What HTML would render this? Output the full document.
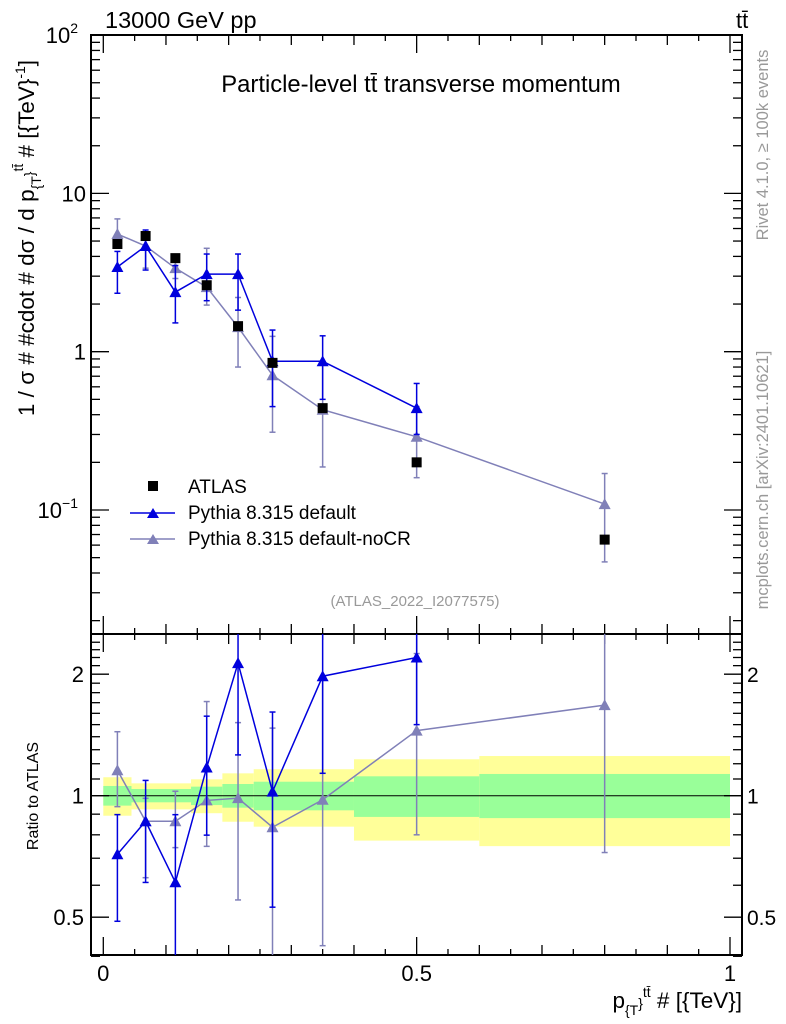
<!DOCTYPE html>
<html><head><meta charset="utf-8"><style>
body{margin:0;background:#fff}
svg{display:block;font-family:"Liberation Sans",sans-serif}
</style></head><body>
<svg id="c" width="786" height="1024" viewBox="0 0 786 1024">
<rect width="786" height="1024" fill="#fff"/>
<g id="bands"></g>
<g id="axes"></g>
<g id="series"></g>
<text x="105" y="28" font-size="23.5">13000 GeV pp</text>
<text x="736" y="28" font-size="22">tt̄</text>
<text x="421" y="92" font-size="23.8" text-anchor="middle">Particle-level tt̄ transverse momentum</text>
<text x="415" y="606" font-size="15" fill="#999" text-anchor="middle">(ATLAS_2022_I2077575)</text>
<text transform="translate(34,238) rotate(-90)" font-size="22.5" text-anchor="middle">1 / σ # #cdot # dσ / d p<tspan font-size="14" dy="7">{T</tspan><tspan font-size="14" dy="-7">}</tspan><tspan font-size="14" dy="-11">tt̄</tspan><tspan dy="11"> # [{TeV}</tspan><tspan font-size="14" dy="-9">-1</tspan><tspan dy="9">]</tspan></text>
<text transform="translate(38,796) rotate(-90)" font-size="16" text-anchor="middle">Ratio to ATLAS</text>
<text x="742" y="1008" font-size="22.5" text-anchor="end">p<tspan font-size="14" dy="7">{T</tspan><tspan font-size="14" dy="-7">}</tspan><tspan font-size="14" dy="-11">tt̄</tspan><tspan dy="11"> # [{TeV}]</tspan></text>
<text transform="translate(768,145) rotate(-90)" font-size="16.5" fill="#999" text-anchor="middle">Rivet 4.1.0, ≥ 100k events</text>
<text transform="translate(768,480) rotate(-90)" font-size="16.5" fill="#999" text-anchor="middle">mcplots.cern.ch [arXiv:2401.10621]</text>
<g>
<rect x="148" y="481" width="10" height="10" fill="#000"/>
<text x="188" y="493" font-size="19">ATLAS</text>
<line x1="130" y1="513" x2="175" y2="513" stroke="#0000dd" stroke-width="1.5"/>
<path d="M147,518 L153,508 L159,518Z" fill="#0000dd"/>
<text x="188" y="519" font-size="19">Pythia 8.315 default</text>
<line x1="130" y1="539" x2="175" y2="539" stroke="#8080b8" stroke-width="1.5"/>
<path d="M147,544 L153,534 L159,544Z" fill="#8080b8"/>
<text x="188" y="545" font-size="19">Pythia 8.315 default-noCR</text>
</g>
</svg>
<script>
const xs=[0.0225,0.0675,0.115,0.165,0.215,0.27,0.35,0.5,0.8];
const atlas=[4.79,5.38,3.9,2.63,1.45,0.85,0.44,0.20,0.065];
const defVals=[3.43,4.65,2.38,3.09,3.09,0.87,0.87,0.44];
const defUp=[4.3,5.87,3.5,4.14,4.14,1.37,1.26,0.63];
const defDn=[2.34,3.28,1.52,2.1,1.83,0.45,0.5,0.3];
const ncrVals=[5.54,4.65,3.37,2.56,1.43,0.71,0.43,0.29,0.109];
const ncrUp=[6.9,5.3,4.0,4.5,2.2,1.25,0.86,0.45,0.17];
const ncrDn=[4.5,3.37,2.9,1.97,0.8,0.31,0.187,0.16,0.047];
const binEdges=[0,0.045,0.14,0.19,0.24,0.4,0.6,1.0];
const yelHi=[1.111,1.073,1.098,1.136,1.163,1.231,1.254];
const yelLo=[0.892,0.925,0.905,0.862,0.838,0.774,0.75];
const grnHi=[1.057,1.039,1.053,1.069,1.083,1.117,1.132];
const grnLo=[0.945,0.963,0.948,0.934,0.92,0.886,0.88];
const NS='http://www.w3.org/2000/svg';
const L=91,R=742,T=35,MB=634,RB=955;
const X=v=>103.3+v*626.7;
const Y=v=>351.7-Math.log10(v)*158.3;
const RY=v=>795.7-Math.log2(v)*121.5;
function mk(p,tag,a){const e=document.createElementNS(NS,tag);for(const k in a)e.setAttribute(k,a[k]);p.appendChild(e);return e;}
const bands=document.getElementById('bands'),axes=document.getElementById('axes'),ser=document.getElementById('series');
for(let i=0;i<yelHi.length;i++){
 const x1=X(binEdges[i]),x2=X(binEdges[i+1]);
 const y=mk(bands,'rect',{x:x1,y:RY(yelHi[i]),width:x2-x1,height:RY(yelLo[i])-RY(yelHi[i]),fill:'#ffff99'});
 
 
 const g=mk(bands,'rect',{x:x1,y:RY(grnHi[i]),width:x2-x1,height:RY(grnLo[i])-RY(grnHi[i]),fill:'#99ff99'});
 
 
}
mk(axes,'line',{x1:L,y1:RY(1),x2:R,y2:RY(1),stroke:'#000','stroke-width':1});
mk(axes,'rect',{x:L,y:T,width:R-L,height:MB-T,fill:'none',stroke:'#000','stroke-width':2});
mk(axes,'rect',{x:L,y:MB,width:R-L,height:RB-MB,fill:'none',stroke:'#000','stroke-width':2});
for(let k=0;k<=20;k++){const v=k*0.05,x=X(v),len=(k%10==0)?18:(k%2==0?10:6);
 [[T,1],[MB,1],[MB,-1],[RB,-1]].forEach(([y0,d])=>mk(axes,'line',{x1:x,y1:y0,x2:x,y2:y0+d*len,stroke:'#000','stroke-width':1.3}));}
[[0,'0'],[0.5,'0.5'],[1,'1']].forEach(([v,t])=>{const e=mk(axes,'text',{x:X(v),y:981,'font-size':22,'text-anchor':'middle'});e.textContent=t;});
for(let d=-2;d<2;d++)for(let m=1;m<10;m++){const v=m*Math.pow(10,d),y=Y(v);if(y>MB||y<T)continue;const len=m==1?18:9;
 mk(axes,'line',{x1:L,y1:y,x2:L+len,y2:y,stroke:'#000','stroke-width':1.3});mk(axes,'line',{x1:R,y1:y,x2:R-len,y2:y,stroke:'#000','stroke-width':1.3});}
mk(axes,'line',{x1:L,y1:Y(100),x2:L+18,y2:Y(100),stroke:'#000','stroke-width':1.3});
[[100,'10','2'],[10,'10',''],[1,'1',''],[0.1,'10','−1']].forEach(([v,b,s])=>{const e=mk(axes,'text',{x:s?78:86,y:Y(v)+8,'font-size':22,'text-anchor':'end'});e.textContent=b;if(s){const t=mk(e,'tspan',{'font-size':14,dy:-10});t.textContent=s;}});
for(const v of [0.4,0.5,0.6,0.7,0.8,0.9,1,1.1,1.2,1.3,1.4,1.5,1.6,1.7,1.8,1.9,2,2.1,2.2,2.3,2.4]){const y=RY(v);const len=(v==0.5||v==1||v==2)?18:9;
 mk(axes,'line',{x1:L,y1:y,x2:L+len,y2:y,stroke:'#000','stroke-width':1.3});mk(axes,'line',{x1:R,y1:y,x2:R-len,y2:y,stroke:'#000','stroke-width':1.3});}
[[2,'2'],[1,'1'],[0.5,'0.5']].forEach(([v,t])=>{let e=mk(axes,'text',{x:84,y:RY(v)+8,'font-size':22,'text-anchor':'end'});e.textContent=t;
 e=mk(axes,'text',{x:747,y:RY(v)+8,'font-size':21});e.textContent=t;});
const clip=mk(document.getElementById('c'),'clipPath',{id:'cr'});mk(clip,'rect',{x:L,y:MB,width:R-L,height:RB-MB});
const clipm=mk(document.getElementById('c'),'clipPath',{id:'cm'});mk(clipm,'rect',{x:L,y:T,width:R-L,height:MB-T});
function series(vals,up,dn,col,name,fy,gclip,ref){
 const g=mk(ser,'g',{'clip-path':gclip});
 
 
 const f=(a,i)=>ref?a[i]/ref[i]:a[i];
 let d='';vals.forEach((v,i)=>{d+=(i?'L':'M')+X(xs[i])+','+fy(f(vals,i));});
 mk(g,'path',{d:d,fill:'none',stroke:col,'stroke-width':1.5});
 vals.forEach((v,i)=>{const x=X(xs[i]),yu=fy(f(up,i)),yd=fy(f(dn,i)),y=fy(f(vals,i));
  mk(g,'line',{x1:x,y1:yu,x2:x,y2:yd,stroke:col,'stroke-width':1.5});
  mk(g,'line',{x1:x-3,y1:yu,x2:x+3,y2:yu,stroke:col,'stroke-width':1.5});
  mk(g,'line',{x1:x-3,y1:yd,x2:x+3,y2:yd,stroke:col,'stroke-width':1.5});
  const p=mk(g,'path',{d:`M${x-6},${y+5} L${x},${y-6} L${x+6},${y+5}Z`,fill:col});
  
  });
}
series(ncrVals,ncrUp,ncrDn,'#8080b8','nocr-series',Y,'url(#cm)',null);
series(defVals,defUp,defDn,'#0000dd','default-series',Y,'url(#cm)',null);
series(ncrVals,ncrUp,ncrDn,'#8080b8','nocr-ratio',RY,'url(#cr)',atlas);
series(defVals,defUp,defDn,'#0000dd','default-ratio',RY,'url(#cr)',atlas);
atlas.forEach((v,i)=>{const r=mk(ser,'rect',{x:X(xs[i])-5,y:Y(v)-5,width:10,height:10,fill:'#000'});
 
 });
</script>
</body></html>
